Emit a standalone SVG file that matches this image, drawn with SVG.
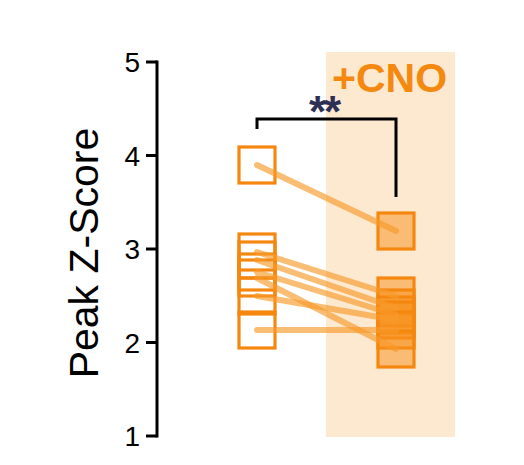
<svg xmlns="http://www.w3.org/2000/svg" width="524" height="465" viewBox="0 0 524 465">
<style>
.tick{stroke:#000;stroke-width:3;fill:none}
.tl{font-family:"Liberation Sans",Arial,sans-serif;font-size:28px;fill:#000;text-anchor:end}
.sq{stroke:#f5870f;stroke-width:3.2}
.pre{fill:none}
.post{fill:#f8901c;fill-opacity:0.5}
.ln{stroke:#f89a2a;stroke-opacity:0.65;stroke-width:6;stroke-linecap:round;fill:none}
</style>
<rect width="524" height="465" fill="#fff"/>
<rect id="cno-bg" x="326" y="52" width="129" height="385" fill="#fde9cf"/>
<g id="axis">
<line class="tick" x1="157" y1="60.5" x2="157" y2="437.5"/>
<line class="tick" x1="146" y1="62" x2="157" y2="62"/>
<line class="tick" x1="146" y1="155.5" x2="157" y2="155.5"/>
<line class="tick" x1="146" y1="249" x2="157" y2="249"/>
<line class="tick" x1="146" y1="342.5" x2="157" y2="342.5"/>
<line class="tick" x1="146" y1="436" x2="157" y2="436"/>
<text class="tl" x="140" y="72">5</text>
<text class="tl" x="140" y="165.5">4</text>
<text class="tl" x="140" y="259">3</text>
<text class="tl" x="140" y="352.5">2</text>
<text class="tl" x="140" y="446">1</text>
<text font-family="Liberation Sans,Arial,sans-serif" font-size="41" text-anchor="middle" transform="translate(98,253) rotate(-90)">Peak Z-Score</text>
</g>
<g id="label-cno"><text x="332" y="92" font-family="Liberation Sans,Arial,sans-serif" font-size="41" font-weight="bold" fill="#f5890f">+CNO</text></g>
<g id="pre">
<rect class="sq pre" x="239" y="147" width="36" height="36"/>
<rect class="sq pre" x="239" y="234" width="36" height="36"/>
<rect class="sq pre" x="239" y="242" width="36" height="36"/>
<rect class="sq pre" x="239" y="254" width="36" height="36"/>
<rect class="sq pre" x="239" y="260" width="36" height="36"/>
<rect class="sq pre" x="239" y="278" width="36" height="36"/>
<rect class="sq pre" x="239" y="312" width="36" height="36"/>
</g>
<g id="post">
<rect class="sq post" x="378" y="213" width="36" height="36"/>
<rect class="sq post" x="378" y="278" width="36" height="36"/>
<rect class="sq post" x="378" y="290" width="36" height="36"/>
<rect class="sq post" x="378" y="297" width="36" height="36"/>
<rect class="sq post" x="378" y="302" width="36" height="36"/>
<rect class="sq post" x="378" y="312" width="36" height="36"/>
<rect class="sq post" x="378" y="331" width="36" height="36"/>
</g>
<g id="connectors">
<line class="ln" x1="257" y1="165" x2="396" y2="231"/>
<line class="ln" x1="257" y1="252" x2="396" y2="296"/>
<line class="ln" x1="257" y1="260" x2="396" y2="308"/>
<line class="ln" x1="257" y1="272" x2="396" y2="315"/>
<line class="ln" x1="257" y1="278" x2="396" y2="349"/>
<line class="ln" x1="257" y1="296" x2="396" y2="320"/>
<line class="ln" x1="257" y1="330" x2="396" y2="330"/>
</g>
<g id="significance">
<polyline points="257,129 257,119 396,119 396,197" fill="none" stroke="#000" stroke-width="3"/>
<text x="309" y="127" font-family="Liberation Sans,Arial,sans-serif" font-size="44" font-weight="bold" fill="#2d2f55" letter-spacing="-2">**</text>
</g>
</svg>
